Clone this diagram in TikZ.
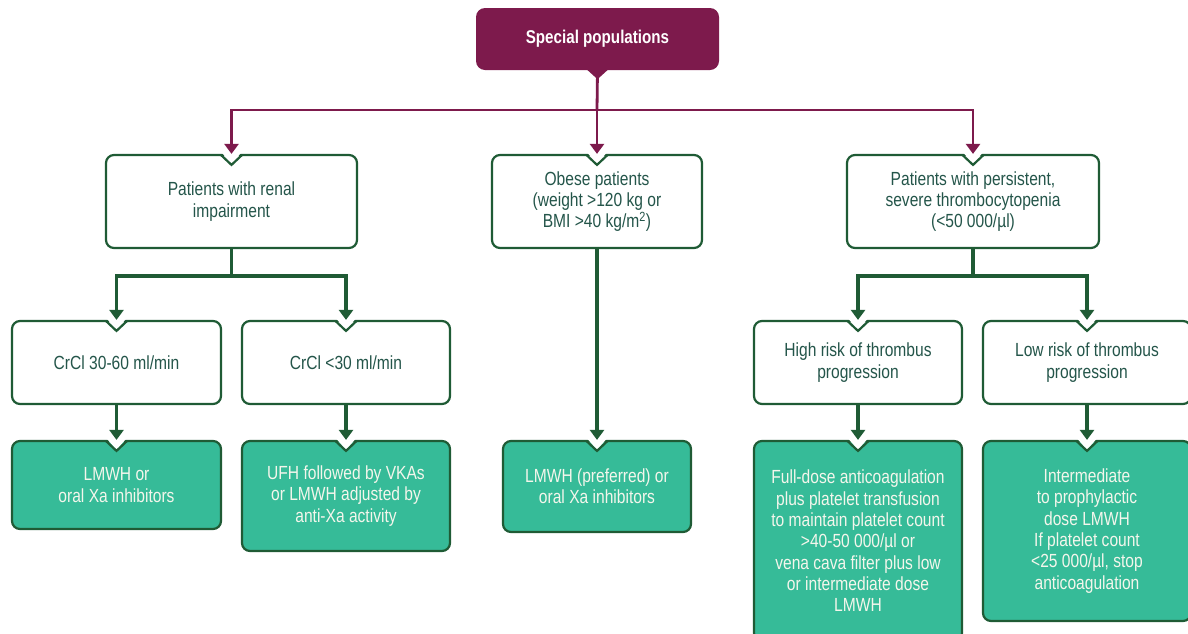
\documentclass[tikz,border=0pt]{standalone}
\usepackage{fontspec}
\setmainfont{Liberation Sans}[FakeStretch=0.82]
\usetikzlibrary{arrows.meta}
\definecolor{plum}{HTML}{7D1A4C}
\definecolor{pine}{HTML}{1F5B35}
\definecolor{mint}{HTML}{36BB98}
\definecolor{ink}{HTML}{24554A}
\definecolor{paper}{HTML}{F4F6EC}
\tikzset{
  box/.style={draw=pine, line width=2.2pt, rounded corners=8pt, fill=white,
    align=center, text=ink, inner sep=0pt, font=\fontsize{19}{21.3}\selectfont},
  result/.style={box, fill=mint, text=paper},
  head/.style={fill=plum, rounded corners=9pt, text=white, inner sep=0pt,
    font=\bfseries\fontsize{18.5}{21}\selectfont},
  plumline/.style={plum, line width=2.8pt},
  pineline/.style={pine, line width=3.4pt},
  tip/.style={-{Triangle[width=14pt,length=10pt]}},
}
\begin{document}
\begin{tikzpicture}[x=1pt,y=-1pt]
\useasboundingbox (0,0) rectangle (1188,633);

% heading
\node[head, minimum width=243pt, minimum height=62pt] (top) at (597.5,39) {Special populations};
\fill[plum] ([xshift=-11pt,yshift=1pt]top.south) -- ([xshift=11pt,yshift=1pt]top.south) -- ([yshift=-9pt]top.south) -- cycle;

% populations
\node[box, minimum width=251pt, minimum height=93pt] (renal) at (231.5,201.5)
  {Patients with renal\\impairment};
\node[box, minimum width=210pt, minimum height=93pt] (obese) at (597,201.5)
  {Obese patients\\(weight >120 kg or\\BMI >40 kg/m\textsuperscript{2})};
\node[box, minimum width=252pt, minimum height=93pt] (thrombo) at (973,201.5)
  {Patients with persistent,\\severe thrombocytopenia\\(<50 000/µl)};

% subgroups
\node[box, minimum width=209pt, minimum height=83pt] (crcla) at (116.5,362.5) {CrCl 30-60 ml/min};
\node[box, minimum width=208pt, minimum height=83pt] (crclb) at (346,362.5) {CrCl <30 ml/min};
\node[box, minimum width=208pt, minimum height=83pt] (high) at (858,362.5) {High risk of thrombus\\progression};
\node[box, minimum width=208pt, minimum height=83pt] (low) at (1087,362.5) {Low risk of thrombus\\progression};

% recommendations
\node[result, minimum width=209pt, minimum height=88pt] (resa) at (116.5,485)
  {LMWH or\\oral Xa inhibitors};
\node[result, minimum width=208pt, minimum height=110pt] (resb) at (346,496)
  {UFH followed by VKAs\\or LMWH adjusted by\\anti-Xa activity};
\node[result, minimum width=188pt, minimum height=91pt] (resc) at (597,486.5)
  {LMWH (preferred) or\\oral Xa inhibitors};
\node[result, minimum width=208pt, minimum height=200pt] (resd) at (858,541)
  {Full-dose anticoagulation\\plus platelet transfusion\\to maintain platelet count\\>40-50 000/µl or\\vena cava filter plus low\\or intermediate dose\\LMWH};
\node[result, minimum width=208pt, minimum height=180pt] (rese) at (1087,531)
  {Intermediate\\to prophylactic\\dose LMWH\\If platelet count\\<25 000/µl, stop\\anticoagulation};

% V-shaped notch in the top edge of each box
\foreach \n in {renal,obese,thrombo,crcla,crclb,high,low,resa,resb,resc,resd,rese}{
  \fill[white] ([xshift=-9.5pt,yshift=1pt]\n.north) -- ([xshift=9.5pt,yshift=1pt]\n.north)
    -- ([yshift=-10pt]\n.north) -- cycle;
  \draw[pine, line width=2.2pt] ([xshift=-10.5pt,yshift=-1.1pt]\n.north)
    -- ([yshift=-11pt]\n.north) -- ([xshift=10.5pt,yshift=-1.1pt]\n.north);
}

% connectors
\coordinate (bus) at (597,110);
\draw[plumline] (top.south) -- (bus);
\draw[plumline, tip] (bus) -| (renal.north);
\draw[plumline, tip] (bus) -- (obese.north);
\draw[plumline, tip] (bus) -| (thrombo.north);

\coordinate (rbus) at (231.5,276);
\draw[pineline] (renal.south) -- (rbus);
\draw[pineline, tip] (rbus) -| (crcla.north);
\draw[pineline, tip] (rbus) -| (crclb.north);

\coordinate (tbus) at (973,276);
\draw[pineline] (thrombo.south) -- (tbus);
\draw[pineline, tip] (tbus) -| (high.north);
\draw[pineline, tip] (tbus) -| (low.north);

\draw[pineline, tip] (obese.south) -- (resc.north);
\draw[pineline, tip] (crcla.south) -- (resa.north);
\draw[pineline, tip] (crclb.south) -- (resb.north);
\draw[pineline, tip] (high.south) -- (resd.north);
\draw[pineline, tip] (low.south) -- (rese.north);
\end{tikzpicture}
\end{document}
